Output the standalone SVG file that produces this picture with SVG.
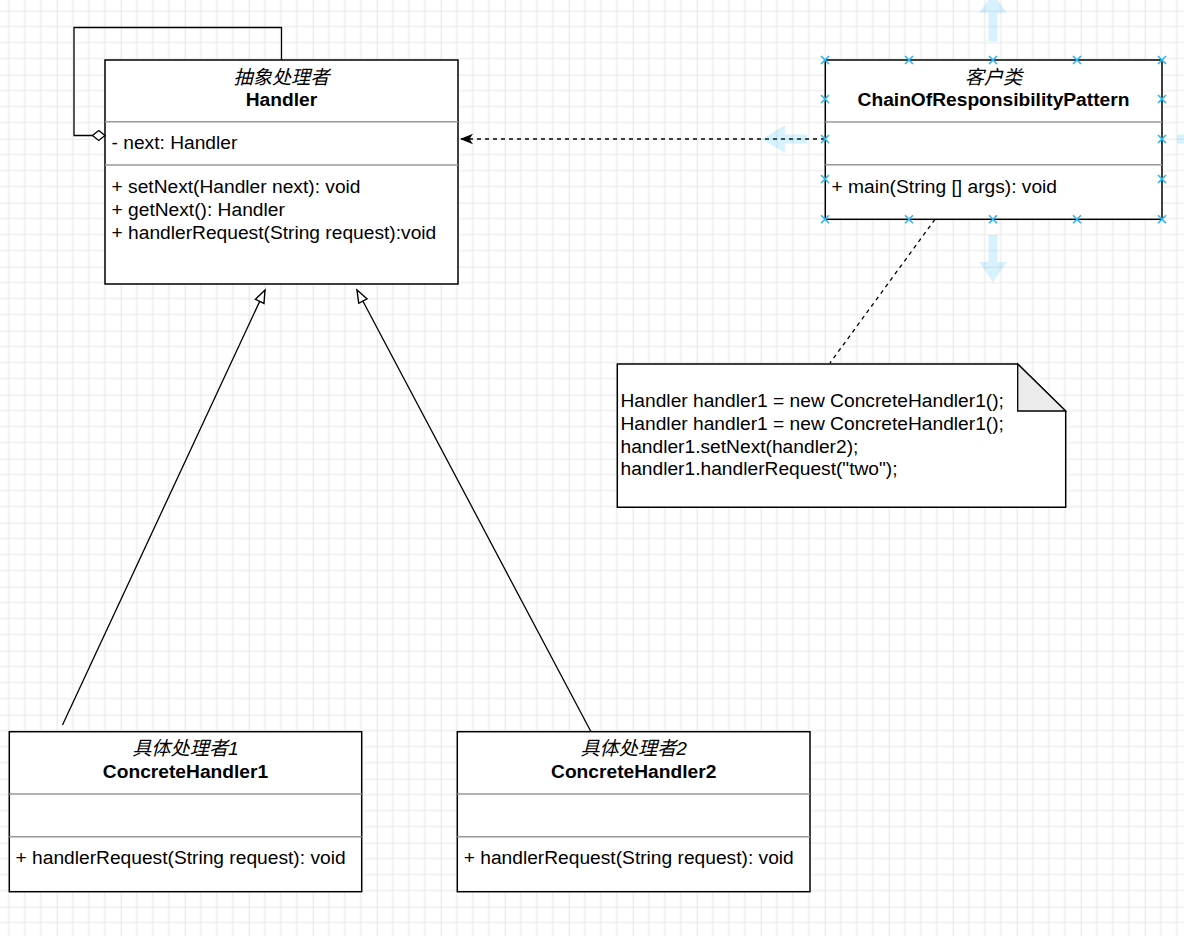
<svg xmlns="http://www.w3.org/2000/svg" width="1184" height="936" viewBox="0 0 1184 936">
<style>
text{font-family:'Liberation Sans','Noto Sans CJK SC',sans-serif;font-size:19.2px;fill:#000}
.it{font-style:italic;text-anchor:middle}
.b{font-weight:bold;text-anchor:middle}
.box{fill:#fff;stroke:#000;stroke-width:1.5}
.div{stroke:#9a9a9a;stroke-width:1.5}
.edge{fill:none;stroke:#000;stroke-width:1.3}
.dash{stroke-dasharray:4,4}
.sel{stroke:#29b6f2;stroke-width:1.6;fill:none}
.hover{fill:#29b6f2;fill-opacity:0.18}
</style>
<defs>
<pattern id="grid" patternUnits="userSpaceOnUse" x="56.7" y="10.7" width="64" height="64">
<path d="M16,0V64M32,0V64M48,0V64M0,16H64M0,32H64M0,48H64" stroke="#efefef" stroke-width="1.6" fill="none"/>
<path d="M0,0V64M0,0H64" stroke="#d3d3d3" stroke-width="1.2" fill="none"/>
</pattern>
<marker id="tri" markerUnits="userSpaceOnUse" viewBox="0 0 16 12" markerWidth="16" markerHeight="12" refX="14" refY="6" orient="auto">
<path d="M1.5,1.3 L14,6 L1.5,10.7 Z" fill="#fff" stroke="#000" stroke-width="1.4"/>
</marker>
<marker id="classic" markerUnits="userSpaceOnUse" viewBox="0 0 16 12" markerWidth="16" markerHeight="12" refX="14" refY="6" orient="auto">
<path d="M14,6 L1,0.8 L4.5,6 L1,11.2 Z" fill="#000"/>
</marker>
<marker id="dia" markerUnits="userSpaceOnUse" viewBox="0 0 16 12" markerWidth="16" markerHeight="12" refX="14" refY="6" orient="auto">
<path d="M1.5,6 L7.75,1 L14,6 L7.75,11 Z" fill="#fff" stroke="#000" stroke-width="1.3"/>
</marker>
</defs>
<rect width="1184" height="936" fill="#fff"/>
<rect width="1184" height="936" fill="url(#grid)"/>

<g id="Handler">
<rect class="box" x="105" y="60" width="353" height="224"/>
<line class="div" x1="105" y1="121.7" x2="458" y2="121.7"/>
<line class="div" x1="105" y1="165" x2="458" y2="165"/>
<text class="it" x="281.5" y="84">抽象处理者</text>
<text class="b" x="281.5" y="106">Handler</text>
<text x="111.5" y="149">- next: Handler</text>
<text x="111.5" y="192.5">+ setNext(Handler next): void</text>
<text x="111.5" y="215.5">+ getNext(): Handler</text>
<text x="111.5" y="238.5">+ handlerRequest(String request):void</text>
</g>

<g id="ChainOfResponsibilityPattern">
<rect class="box" x="825.3" y="60" width="336.7" height="159.3"/>
<line class="div" x1="825.3" y1="122" x2="1162" y2="122"/>
<line class="div" x1="825.3" y1="164.7" x2="1162" y2="164.7"/>
<text class="it" x="993.5" y="84">客户类</text>
<text class="b" x="993.5" y="106">ChainOfResponsibilityPattern</text>
<text x="831.5" y="192.5">+ main(String [] args): void</text>
</g>

<g id="ConcreteHandler1">
<rect class="box" x="9.3" y="731.7" width="352.4" height="160"/>
<line class="div" x1="9.3" y1="794" x2="361.7" y2="794"/>
<line class="div" x1="9.3" y1="836.7" x2="361.7" y2="836.7"/>
<text class="it" x="185.5" y="755">具体处理者1</text>
<text class="b" x="185.5" y="777.5">ConcreteHandler1</text>
<text x="15.5" y="864.3">+ handlerRequest(String request): void</text>
</g>

<g id="ConcreteHandler2">
<rect class="box" x="457.3" y="731.7" width="352.7" height="160"/>
<line class="div" x1="457.3" y1="794" x2="810" y2="794"/>
<line class="div" x1="457.3" y1="836.7" x2="810" y2="836.7"/>
<text class="it" x="633.7" y="755">具体处理者2</text>
<text class="b" x="633.7" y="777.5">ConcreteHandler2</text>
<text x="463.7" y="864.3">+ handlerRequest(String request): void</text>
</g>

<g id="Note">
<path class="box" d="M617.3,364 H1017.7 L1065.7,411 V507.3 H617.3 Z"/>
<path d="M1017.7,364 V411 H1065.7 Z" fill="#ebebeb" stroke="#000" stroke-width="1.3"/>
<text x="620.5" y="407">Handler handler1 = new ConcreteHandler1();</text>
<text x="620.5" y="430">Handler handler1 = new ConcreteHandler1();</text>
<text x="620.5" y="452.5">handler1.setNext(handler2);</text>
<text x="620.5" y="475">handler1.handlerRequest("two");</text>
</g>

<g id="connectors">
<path class="edge" d="M281.5,60 V27.5 H74 V135.5 H105" marker-end="url(#dia)"/>
<path class="edge dash" d="M825,139 H460" marker-end="url(#classic)"/>
<path class="edge dash" d="M935,219.3 L830,363"/>
<path class="edge" d="M62.5,725 L265,290" marker-end="url(#tri)"/>
<path class="edge" d="M591,731.7 L357,290" marker-end="url(#tri)"/>
</g>

<g id="selection">
<path class="hover" d="M993,-6 L1007,12.7 H997.5 V41.3 H988.5 V12.7 H979 Z"/>
<path class="hover" d="M988.5,235 H997.5 V262 H1007 L993,282 L979,262 H988.5 Z"/>
<path class="hover" d="M762,139 L785,125 V134.5 H807 V143.5 H785 V153 Z"/>
<path class="hover" d="M1177,134.5 H1190 V143.5 H1177 Z"/>
<path class="sel" d="M821,56l8,8m0,-8l-8,8 M905,56l8,8m0,-8l-8,8 M989,56l8,8m0,-8l-8,8 M1073,56l8,8m0,-8l-8,8 M1158,56l8,8m0,-8l-8,8
M821,95l8,8m0,-8l-8,8 M821,135l8,8m0,-8l-8,8 M821,175l8,8m0,-8l-8,8
M1158,95l8,8m0,-8l-8,8 M1158,135l8,8m0,-8l-8,8 M1158,175l8,8m0,-8l-8,8
M821,215.3l8,8m0,-8l-8,8 M905,215.3l8,8m0,-8l-8,8 M989,215.3l8,8m0,-8l-8,8 M1073,215.3l8,8m0,-8l-8,8 M1158,215.3l8,8m0,-8l-8,8"/>
</g>
</svg>
